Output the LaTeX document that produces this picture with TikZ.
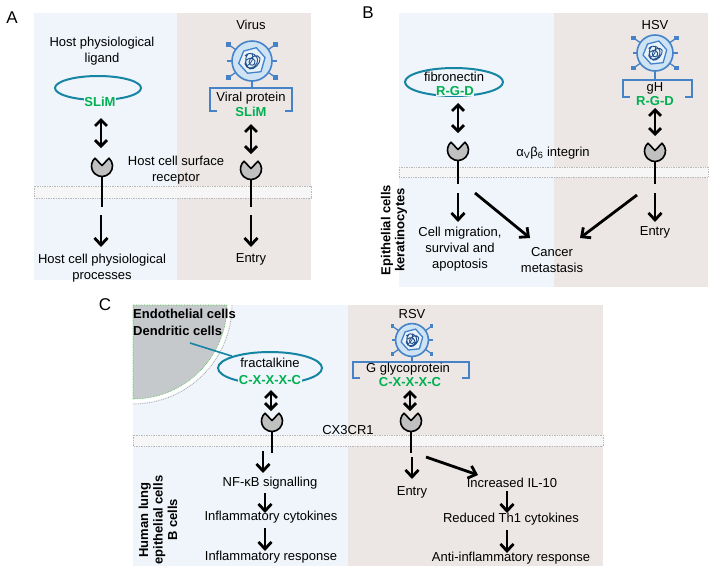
\documentclass[tikz,border=0pt]{standalone}
\usepackage{fontspec}
\setmainfont{Liberation Sans}
\usetikzlibrary{arrows.meta,shapes.geometric}
\definecolor{bgblue}{RGB}{239,245,250}
\definecolor{bgbrown}{RGB}{236,231,229}
\definecolor{slimgreen}{RGB}{0,176,80}
\definecolor{ligteal}{RGB}{22,133,163}
\definecolor{vblue}{RGB}{70,130,200}
\definecolor{vdark}{RGB}{35,80,140}
\definecolor{vfill}{RGB}{206,228,245}
\definecolor{vinner}{RGB}{232,242,250}
\definecolor{recgray}{RGB}{192,192,192}
\definecolor{cellgray}{RGB}{198,201,204}
\tikzset{
 txt/.style={font=\fontsize{13}{16}\selectfont, inner sep=0pt, align=center},
 bold/.style={font=\fontsize{13}{15}\selectfont\bfseries, inner sep=0pt, align=left},
 panel/.style={font=\fontsize{17}{19}\selectfont, inner sep=0pt},
 motif/.style={font=\fontsize{13}{15}\selectfont\bfseries, text=slimgreen, inner sep=0.5pt},
 flow/.style={line width=2.8pt, -{Straight Barb[length=7pt,width=13pt]}},
 bind/.style={line width=2.8pt, {Straight Barb[length=6pt,width=12pt]}-{Straight Barb[length=6pt,width=12pt]}},
 stem/.style={line width=1.6pt},
 ligand/.style={ellipse, draw=ligteal, line width=2pt, inner sep=0pt},
 bracket/.style={draw=vblue, line width=1.8pt},
 membrane/.style={draw=gray!55, densely dotted, fill=white!93!gray, line width=0.7pt},
 rec/.style={circle, minimum size=21pt, inner sep=0pt},
 pics/receptor/.style={code={
   \draw[fill=recgray, line width=1.6pt, line join=round] (48:10.5pt) arc[start angle=48, end angle=-228, radius=10.5pt] -- (0pt,0.5pt) -- cycle;
 }},
 pics/virus/.style={code={
   \foreach \a in {35,145,215,325}{
     \draw[vblue, line width=1.3pt] (\a:20pt) -- (\a:29pt);
     \fill[vblue] (\a:29pt) ++(-2.4pt,-2.4pt) rectangle ++(4.8pt,4.8pt);
   }
   \foreach \a in {0,180}{\draw[vblue, line width=1.3pt] (\a:20pt) -- (\a:25pt);}
   \draw[vblue, fill=vfill, line width=1.6pt] (0pt,0pt) circle[radius=20pt];
   \draw[vblue, fill=vinner, line width=1.3pt, line join=round]
     (15:13.5pt) -- (72:14pt) -- (130:13pt) -- (190:13.5pt) -- (250:13pt) -- (310:14pt) -- cycle;
   \draw[vdark, line width=0.9pt, line join=round]
     (-7pt,5pt) .. controls (-2pt,11pt) and (8pt,6pt) .. (5pt,-2pt)
     .. controls (3pt,-8pt) and (-6pt,-9pt) .. (-7pt,-3pt)
     .. controls (-8pt,3pt) and (2pt,5pt) .. (3pt,0pt)
     .. controls (4pt,-5pt) and (-3pt,-6pt) .. (-3pt,-1pt)
     .. controls (-3pt,4pt) and (6pt,8pt) .. (8pt,3pt)
     .. controls (9pt,-2pt) and (2pt,-9pt) .. (-2pt,-8pt)
     .. controls (-5pt,-7pt) and (-9pt,1pt) .. (-4pt,7pt);
   \draw[vdark, line width=0.8pt] (-5pt,-5pt) .. controls (0pt,-2pt) and (2pt,3pt) .. (0pt,8pt);
 }},
}
\begin{document}
\begin{tikzpicture}[x=1pt,y=-1pt]
\useasboundingbox (0,0) rectangle (709,566);
% ================= Panel A
\fill[bgblue] (34,13) rectangle (177,280);
\fill[bgbrown] (177,13) rectangle (311,280);
\draw[membrane] (34,186) rectangle (311,198);
\node[panel] (labA) at (12,18) {A};
\node[txt] (hplig) at (102,51) {Host physiological\\ligand};
\node[ligand, minimum width=86pt, minimum height=24pt] (ligA) at (98,88) {};
\node[motif, fill=bgblue] (slimA) at (100,102) {SLiM};
\coordinate (bA1) at (101,118);
\coordinate (bA2) at (101,148);
\draw[bind] (bA1) -- (bA2);
\path (102,166) pic {receptor} node[rec] (rA) {};
\coordinate (sA) at (102,207);
\draw[stem] (rA.south) -- (sA);
\coordinate (fA1) at (101,215);
\coordinate (fA2) at (101,247);
\draw[flow] (fA1) -- (fA2);
\node[txt] (hcpp) at (102,268) {Host cell physiological\\processes};
\node[txt] (hcsr) at (176,170) {Host cell surface\\receptor};
\node[txt] (virA) at (251,25) {Virus};
\path (252,61) pic {virus} node[circle, minimum size=40pt, inner sep=0pt] (vA) {};
\coordinate (brA) at (252,88);
\draw[vblue, line width=1.3pt] (vA.south) -- (brA);
\draw[bracket] (217,111) -- (210,111) -- (210,88) -- (292,88) -- (292,111) -- (285,111);
\node[txt] (vpA) at (251,98) {Viral protein};
\node[motif] (slimA2) at (251,112) {SLiM};
\coordinate (bA3) at (251,124);
\coordinate (bA4) at (251,154);
\draw[bind] (bA3) -- (bA4);
\path (251,169) pic {receptor} node[rec] (rA2) {};
\coordinate (sA2) at (251,207);
\draw[stem] (rA2.south) -- (sA2);
\coordinate (fA3) at (251,215);
\coordinate (fA4) at (251,247);
\draw[flow] (fA3) -- (fA4);
\node[txt] (entA) at (251,259) {Entry};
% ================= Panel B
\fill[bgblue] (399,13) rectangle (554,287);
\fill[bgbrown] (554,13) rectangle (708,287);
\draw[membrane] (399,167) rectangle (708,177);
\node[panel] (labB) at (368,13) {B};
\node[ligand, minimum width=98pt, minimum height=28pt] (ligB) at (454,82) {};
\node[txt] (fib) at (454,77) {fibronectin};
\node[motif, fill=bgblue] (rgdB) at (455,91) {R-G-D};
\coordinate (bB1) at (458,103);
\coordinate (bB2) at (458,133);
\draw[bind] (bB1) -- (bB2);
\path (458,150) pic {receptor} node[rec] (rB) {};
\coordinate (sB) at (458,184);
\draw[stem] (rB.south) -- (sB);
\coordinate (fB1) at (458,193);
\coordinate (fB2) at (458,222);
\draw[flow] (fB1) -- (fB2);
\node[txt] (cmsa) at (460,249) {Cell migration,\\survival and\\apoptosis};
\coordinate (dB1) at (475,193);
\coordinate (dB2) at (530,238);
\draw[flow] (dB1) -- (dB2);
\node[txt] (canc) at (552,260) {Cancer\\metastasis};
\node[txt] (integ) at (553,153) {α\textsubscript{V}β\textsubscript{6} integrin};
\node[txt] (hsv) at (655,25) {HSV};
\path (655,53) pic[scale=0.9] {virus} node[circle, minimum size=36pt, inner sep=0pt] (vB) {};
\coordinate (brB) at (655,80);
\draw[vblue, line width=1.3pt] (vB.south) -- (brB);
\draw[bracket] (630,97) -- (623,97) -- (623,80) -- (692,80) -- (692,97) -- (685,97);
\node[txt] (gh) at (655,88) {gH};
\node[motif] (rgdB2) at (655,101) {R-G-D};
\coordinate (bB3) at (655,108);
\coordinate (bB4) at (655,136);
\draw[bind] (bB3) -- (bB4);
\path (655,151) pic {receptor} node[rec] (rB2) {};
\coordinate (sB2) at (655,184);
\draw[stem] (rB2.south) -- (sB2);
\coordinate (fB3) at (655,193);
\coordinate (fB4) at (655,222);
\draw[flow] (fB3) -- (fB4);
\node[txt] (entB) at (655,232) {Entry};
\coordinate (dB3) at (637,195);
\coordinate (dB4) at (580,238);
\draw[flow] (dB3) -- (dB4);
\node[bold, rotate=90, align=center, font=\fontsize{13}{14}\selectfont\bfseries] (epi) at (394,230) {Epithelial cells\\keratinocytes};
% ================= Panel C
\fill[bgblue] (133,305) rectangle (348,566);
\fill[bgbrown] (348,305) rectangle (603,566);
\draw[gray!70, densely dotted, line width=0.8pt] (232,305) arc[start angle=0, end angle=90, radius=99];
\fill[white] (133,305) -- (231,305) arc[start angle=0, end angle=90, radius=98] -- cycle;
\draw[fill=cellgray, draw=green!50!gray, densely dotted, line width=0.6pt] (133,305) -- (227,305) arc[start angle=0, end angle=90, radius=94] -- cycle;
\draw[membrane] (133,435) rectangle (603,446);
\node[panel] (labC) at (105,305) {C};
\node[bold, anchor=west] (endo) at (133,314) {Endothelial cells};
\node[bold, anchor=west] (dend) at (133,331) {Dendritic cells};
\node[ligand, minimum width=104pt, minimum height=32pt] (fk) at (270,368) {};
\coordinate (teth) at (190,343);
\draw[ligteal, line width=1.6pt] (teth) -- (fk);
\node[txt] (fkt) at (270,363) {fractalkine};
\node[motif, fill=bgblue] (cxC) at (270,380) {C-X-X-X-C};
\coordinate (bC1) at (271,390);
\coordinate (bC2) at (271,411);
\draw[bind] (bC1) -- (bC2);
\path (272,421) pic {receptor} node[rec] (rC) {};
\coordinate (sC) at (272,453);
\draw[stem] (rC.south) -- (sC);
\coordinate (fC1) at (263,451);
\coordinate (fC2) at (263,473);
\draw[flow] (fC1) -- (fC2);
\node[txt] (nfkb) at (270,483) {NF-κB signalling};
\coordinate (fC3) at (265,493);
\coordinate (fC4) at (265,513);
\draw[flow] (fC3) -- (fC4);
\node[txt] (infc) at (271,517) {Inflammatory cytokines};
\coordinate (fC5) at (265,528);
\coordinate (fC6) at (265,551);
\draw[flow] (fC5) -- (fC6);
\node[txt] (infr) at (271,557) {Inflammatory response};
\node[txt] (cx3) at (348,430) {CX3CR1};
\node[bold, rotate=90, align=center, font=\fontsize{13}{14.5}\selectfont\bfseries] (hlung) at (158,520) {Human lung\\epithelial cells\\B cells};
\node[txt] (rsv) at (412,314) {RSV};
\path (412,340) pic[scale=0.82] {virus} node[circle, minimum size=33pt, inner sep=0pt] (vC) {};
\coordinate (brC) at (412,362);
\draw[vblue, line width=1.3pt] (vC.south) -- (brC);
\draw[bracket] (360,378) -- (353,378) -- (353,362) -- (469,362) -- (469,378) -- (462,378);
\node[txt] (ggly) at (408,369) {G glycoprotein};
\node[motif] (cxC2) at (410,382) {C-X-X-X-C};
\coordinate (bC3) at (410,390);
\coordinate (bC4) at (410,411);
\draw[bind] (bC3) -- (bC4);
\path (411,421) pic {receptor} node[rec] (rC2) {};
\coordinate (sC2) at (411,453);
\draw[stem] (rC2.south) -- (sC2);
\coordinate (fC7) at (412,457);
\coordinate (fC8) at (412,479);
\draw[flow] (fC7) -- (fC8);
\node[txt] (entC) at (412,492) {Entry};
\coordinate (dC1) at (426,457);
\coordinate (dC2) at (478,475);
\draw[flow] (dC1) -- (dC2);
\node[txt] (il10) at (512,483) {Increased IL-10};
\coordinate (fC9) at (507,491);
\coordinate (fC10) at (507,513);
\draw[flow] (fC9) -- (fC10);
\node[txt] (th1) at (511,519) {Reduced Th1 cytokines};
\coordinate (fC11) at (507,530);
\coordinate (fC12) at (507,553);
\draw[flow] (fC11) -- (fC12);
\node[txt] (antiinf) at (511,558) {Anti-inflammatory response};
\end{tikzpicture}
\end{document}
